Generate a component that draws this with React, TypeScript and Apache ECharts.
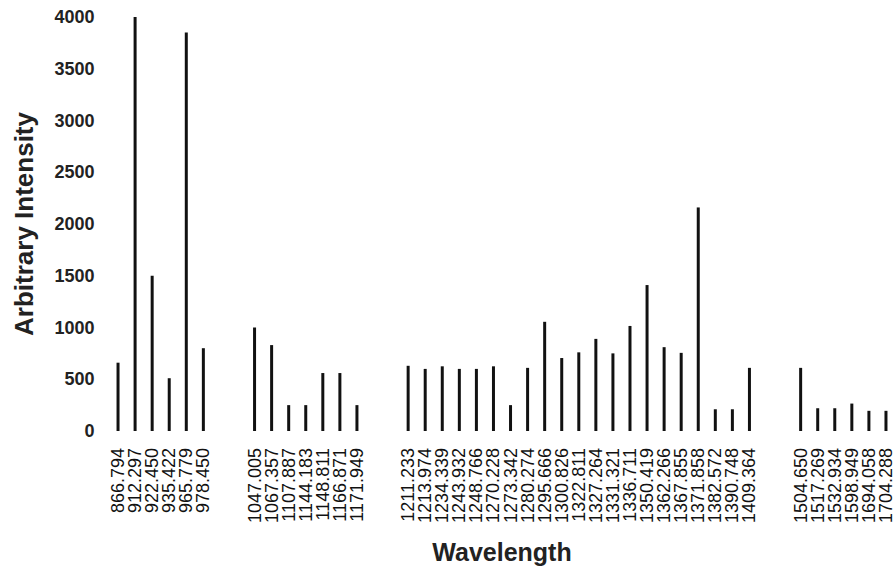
import React, { useEffect, useRef } from "react";
import * as echarts from "echarts";

const group1Labels = ["866.794", "912.297", "922.450", "935.422", "965.779", "978.450"];
const group1Values = [660, 4000, 1500, 510, 3850, 800];

const group2Labels = ["1047.005", "1067.357", "1107.887", "1144.183", "1148.811", "1166.871", "1171.949"];
const group2Values = [1000, 830, 250, 250, 560, 560, 250];

const group3Labels = [
  "1211.233", "1213.974", "1234.339", "1243.932", "1248.766", "1270.228", "1273.342",
  "1280.274", "1295.666", "1300.826", "1322.811", "1327.264", "1331.321", "1336.711",
  "1350.419", "1362.266", "1367.855", "1371.858", "1382.572", "1390.748", "1409.364",
];
const group3Values = [
  630, 600, 625, 600, 600, 625, 250,
  610, 1055, 705, 760, 890, 750, 1015,
  1410, 810, 755, 2160, 210, 210, 610,
];

const group4Labels = ["1504.650", "1517.269", "1532.934", "1598.949", "1694.058", "1704.288"];
const group4Values = [610, 220, 220, 265, 195, 195];

const yTicks = [0, 500, 1000, 1500, 2000, 2500, 3000, 3500, 4000];

export default function App() {
  const ref = useRef<HTMLDivElement>(null);

  useEffect(() => {
    if (!ref.current) return;
    const chart = echarts.init(ref.current, null, { renderer: "svg" });

    const groupsL = [group1Labels, group2Labels, group3Labels, group4Labels];
    const groupsV = [group1Values, group2Values, group3Values, group4Values];
    const categories: string[] = [];
    const values: (number | null)[] = [];
    let blank = 0;
    groupsL.forEach((labels, gi) => {
      if (gi > 0) {
        for (let k = 0; k < 2; k++) {
          blank++;
          categories.push(" ".repeat(blank));
          values.push(null);
        }
      }
      labels.forEach((l, i) => {
        categories.push(l);
        values.push(groupsV[gi][i]);
      });
    });

    const font = "'Liberation Sans', Arial, sans-serif";

    chart.setOption({
      animation: false,
      backgroundColor: "#ffffff",
      grid: { left: 109.5, right: 1.5, top: 17, bottom: 138, containLabel: false },
      xAxis: {
        type: "category",
        data: categories,
        boundaryGap: true,
        axisLine: { show: false },
        axisTick: { show: false },
        axisLabel: {
          interval: 0,
          rotate: 90,
          margin: 17,
          color: "#111",
          fontSize: 18,
          fontFamily: font,
        },
        name: "Wavelength",
        nameLocation: "middle",
        nameGap: 108,
        nameTextStyle: { fontSize: 25, fontWeight: "bold", color: "#222", fontFamily: font },
      },
      yAxis: {
        type: "value",
        min: yTicks[0],
        max: yTicks[yTicks.length - 1],
        interval: 500,
        axisLine: { show: false },
        axisTick: { show: false },
        splitLine: { show: false },
        axisLabel: {
          margin: 15,
          color: "#222",
          fontSize: 18,
          fontWeight: "bold",
          fontFamily: font,
          formatter: (v: number) => String(v),
        },
        name: "Arbitrary Intensity",
        nameLocation: "middle",
        nameGap: 73,
        nameTextStyle: { fontSize: 26, fontWeight: "bold", color: "#222", fontFamily: font },
      },
      series: [
        {
          type: "bar",
          data: values,
          barWidth: 3,
          itemStyle: { color: "#111" },
        },
      ],
    });

    return () => chart.dispose();
  }, []);

  return (
    <div
      ref={ref}
      style={{ position: "absolute", left: 0, top: 0, width: 896, height: 569 }}
    />
  );
}
